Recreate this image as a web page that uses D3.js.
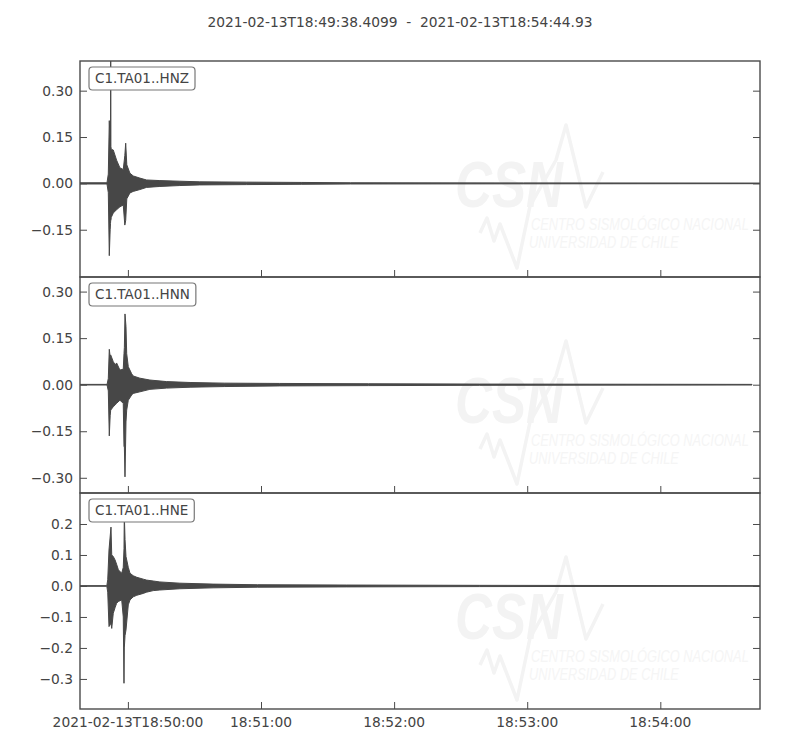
<!DOCTYPE html>
<html><head><meta charset="utf-8">
<script src="https://cdn.jsdelivr.net/npm/d3@7"></script>
<style>
body{margin:0;background:#fff}
svg{display:block}
text{font-family:"DejaVu Sans",sans-serif}
</style>
</head><body>
<svg id="chart" width="800" height="750"></svg>
<script>
// ---------- data ----------
const titleText = "2021-02-13T18:49:38.4099  -  2021-02-13T18:54:44.93";
const channels = ["C1.TA01..HNZ", "C1.TA01..HNN", "C1.TA01..HNE"];
const startMs = Date.UTC(2021, 1, 13, 18, 49, 38) + 409.9;
const endMs = Date.UTC(2021, 1, 13, 18, 54, 44) + 930;
const xTickTimes = [Date.UTC(2021,1,13,18,50,0), Date.UTC(2021,1,13,18,51,0), Date.UTC(2021,1,13,18,52,0), Date.UTC(2021,1,13,18,53,0), Date.UTC(2021,1,13,18,54,0)];
const xTickLabels = ["2021-02-13T18:50:00", "18:51:00", "18:52:00", "18:53:00", "18:54:00"];
const yDomains = [[-0.303, 0.396], [-0.349, 0.347], [-0.397, 0.300]];
const yTickValues = [[0.30, 0.15, 0.00, -0.15], [0.30, 0.15, 0.00, -0.15, -0.30], [0.2, 0.1, 0.0, -0.1, -0.2, -0.3]];
const yTickFormats = [".2f", ".2f", ".1f"];
const logoLines = ["CENTRO SISMOLÓGICO NACIONAL", "UNIVERSIDAD DE CHILE"];

// envelopes (seconds after start, upper, lower)
const hnzT  = [0, 12.17, 12.76, 13.2, 13.6, 13.75, 13.84, 13.93, 14.1, 15.0, 16.5, 18.0, 19.5, 20.2, 20.6, 21.1, 22.5, 24.0, 27, 30, 36, 45, 54, 75, 100, 122, 200, 306.5];
const hnzUp = [0.002, 0.002, 0.03, 0.203, 0.13, 0.12, 0.45, 0.12, 0.11, 0.108, 0.075, 0.05, 0.045, 0.09, 0.13, 0.06, 0.033, 0.024, 0.017, 0.011, 0.009, 0.007, 0.005, 0.004, 0.003, 0.002, 0.0015, 0.001];
const hnzLo = [-0.002, -0.002, -0.03, -0.234, -0.15, -0.13, -0.12, -0.12, -0.11, -0.096, -0.085, -0.076, -0.07, -0.135, -0.12, -0.05, -0.031, -0.026, -0.02, -0.013, -0.01, -0.007, -0.005, -0.004, -0.003, -0.002, -0.0015, -0.001];

const hnnT  = [0, 12.2, 12.76, 13.2, 13.6, 13.84, 15.0, 15.9, 16.5, 18.0, 19.5, 19.83, 20.0, 20.28, 20.73, 21.05, 21.77, 23.3, 24.0, 27, 31.5, 39, 50, 65, 90, 130, 180, 302.9];
const hnnUp = [0.001, 0.001, 0.02, 0.114, 0.09, 0.096, 0.074, 0.064, 0.07, 0.047, 0.05, 0.10, 0.12, 0.228, 0.187, 0.10, 0.058, 0.035, 0.028, 0.021, 0.015, 0.010, 0.007, 0.005, 0.004, 0.003, 0.002, 0.001];
const hnnLo = [-0.001, -0.001, -0.02, -0.165, -0.10, -0.082, -0.071, -0.065, -0.06, -0.05, -0.06, -0.20, -0.20, -0.297, -0.12, -0.082, -0.05, -0.033, -0.028, -0.023, -0.015, -0.011, -0.008, -0.006, -0.004, -0.003, -0.002, -0.001];

const hneT  = [0, 12.1, 12.5, 13.07, 13.97, 14.3, 15.0, 15.8, 16.5, 17.3, 18.8, 19.5, 19.83, 19.97, 20.3, 20.73, 21.77, 22.54, 24.0, 25.6, 28.5, 30, 33, 36, 45, 60, 80, 120, 180, 306.5];
const hneUp = [0.001, 0.001, 0.02, 0.116, 0.19, 0.10, 0.095, 0.084, 0.07, 0.052, 0.041, 0.06, 0.12, 0.23, 0.15, 0.095, 0.06, 0.041, 0.033, 0.028, 0.022, 0.019, 0.016, 0.013, 0.009, 0.006, 0.004, 0.003, 0.002, 0.001];
const hneLo = [-0.001, -0.001, -0.02, -0.131, -0.12, -0.137, -0.088, -0.07, -0.056, -0.05, -0.045, -0.10, -0.314, -0.20, -0.16, -0.142, -0.061, -0.045, -0.035, -0.03, -0.024, -0.02, -0.015, -0.013, -0.009, -0.006, -0.004, -0.003, -0.002, -0.001];

const traceT  = [hnzT, hnnT, hneT];
const traceUp = [hnzUp, hnnUp, hneUp];
const traceLo = [hnzLo, hnnLo, hneLo];

// ---------- layout ----------
const left = 80, right = 760, top0 = 61, panelH = 216;
const axisColor = "#4a4a4a", textColor = "#444", traceColor = "#474747";
const tickLen = 7, fontSize = 13.8;

const svg = d3.select("#chart");

svg.append("text")
  .attr("x", 400).attr("y", 26.5)
  .attr("text-anchor", "middle")
  .attr("fill", textColor)
  .style("font-size", fontSize + "px")
  .style("white-space", "pre")
  .attr("xml:space", "preserve")
  .text(titleText);

const x = d3.scaleUtc().domain([new Date(startMs), new Date(endMs)]).range([left, right]);

// text squeezed horizontally to a target width (watermark)
function fitText(parent, str, tx, ty, width, size, weight, fill) {
  const t = parent.append("text")
    .style("font-family", "'Liberation Sans',sans-serif")
    .style("font-style", "italic").style("font-weight", weight)
    .style("font-size", size + "px")
    .attr("fill", fill).text(str);
  const natural = t.node().getComputedTextLength();
  t.attr("transform", `translate(${tx},${ty}) scale(${width / natural},1)`);
  return t;
}

channels.forEach((ch, i) => {
  const py = top0 + i * panelH;
  const y = d3.scaleLinear().domain(yDomains[i]).range([py + panelH, py]);
  const g = svg.append("g");

  const cid = "clip" + i;
  svg.append("clipPath").attr("id", cid)
    .append("rect").attr("x", left).attr("y", py).attr("width", right - left).attr("height", panelH);

  // watermark logo (decoration, lies fully inside the panel)
  const wm = g.append("g").attr("transform", `translate(0,${py - 61})`);
  const wmColor = "#f3f3f3";
  wm.append("path")
    .attr("d", "M480,233 L487,218 L494,241 L500,224 L517,268 L530,206 L556,160 L566,125 L586,207 L603,172")
    .attr("fill", "none").attr("stroke", wmColor).attr("stroke-width", 3.5).attr("stroke-linejoin", "round");
  fitText(wm, "CSN", 455, 207, 108, 64, "bold", wmColor);
  fitText(wm, logoLines[0], 531, 230, 218, 16, "normal", "#f5f5f5");
  fitText(wm, logoLines[1], 529, 248, 150, 16, "normal", "#f5f5f5");

  // waveform envelope
  const rows = traceT[i].map((t, k) => ({ t: new Date(startMs + t * 1000), up: traceUp[i][k], lo: traceLo[i][k] }));
  const area = d3.area().x(d => x(d.t)).y0(d => y(d.lo)).y1(d => y(d.up));
  g.append("path").datum(rows)
    .attr("clip-path", `url(#${cid})`)
    .attr("d", area)
    .attr("fill", traceColor).attr("stroke", traceColor).attr("stroke-width", 1).attr("stroke-linejoin", "round");

  // y axes (left & right, ticks inside)
  const fmt = d3.format(yTickFormats[i]);
  const yl = g.append("g").attr("transform", `translate(${left},0)`)
    .call(d3.axisRight(y).tickValues(yTickValues[i]).tickSize(tickLen).tickFormat(""));
  const yr = g.append("g").attr("transform", `translate(${right},0)`)
    .call(d3.axisLeft(y).tickValues(yTickValues[i]).tickSize(tickLen).tickFormat(""));
  [yl, yr].forEach(a => { a.select(".domain").remove(); a.selectAll("line").attr("stroke", axisColor).attr("stroke-width", 1); });
  g.selectAll(".ylab").data(yTickValues[i]).enter().append("text")
    .attr("x", left - 7).attr("y", d => y(d)).attr("dy", "0.36em")
    .attr("text-anchor", "end").attr("fill", textColor)
    .style("font-size", fontSize + "px")
    .text(d => fmt(d));

  // x axis ticks (bottom, inside)
  const xa = g.append("g").attr("transform", `translate(0,${py + panelH})`)
    .call(d3.axisTop(x).tickValues(xTickTimes.map(v => new Date(v))).tickSize(tickLen).tickFormat(""));
  xa.select(".domain").remove();
  xa.selectAll("line").attr("stroke", axisColor).attr("stroke-width", 1);

  if (i === channels.length - 1) {
    g.selectAll(".xlab").data(xTickTimes).enter().append("text")
      .attr("x", d => x(new Date(d))).attr("y", py + panelH + 18.3)
      .attr("text-anchor", "middle").attr("fill", textColor)
      .style("font-size", fontSize + "px")
      .text((d, k) => xTickLabels[k]);
  }

  // frame
  g.append("rect").attr("x", left).attr("y", py).attr("width", right - left).attr("height", panelH)
    .attr("fill", "none").attr("stroke", axisColor).attr("stroke-width", 1.4);

  // channel label box
  const lb = g.append("g");
  const lt = lb.append("text").attr("x", 95).attr("y", py + 22.2)
    .attr("fill", textColor).style("font-size", "13.5px").text(ch);
  const bb = lt.node().getBBox();
  lb.insert("rect", "text")
    .attr("x", 89).attr("y", py + 6).attr("width", bb.width + 12).attr("height", 23)
    .attr("rx", 3.5).attr("ry", 3.5)
    .attr("fill", "#fff").attr("stroke", "#777").attr("stroke-width", 1.2);
});
</script>
</body></html>
